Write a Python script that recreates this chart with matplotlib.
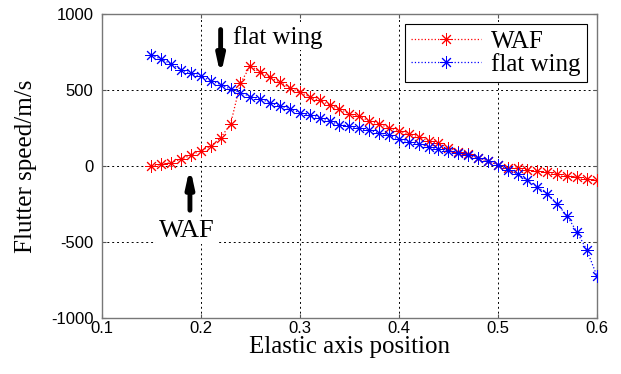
import matplotlib
matplotlib.use("Agg")
import matplotlib.pyplot as plt
import numpy as np

# Elastic axis positions (0.15 .. 0.60)
ea_pos = [0.15, 0.16, 0.17, 0.18, 0.19, 0.20, 0.21, 0.22, 0.23, 0.24,
          0.25, 0.26, 0.27, 0.28, 0.29, 0.30, 0.31, 0.32, 0.33, 0.34,
          0.35, 0.36, 0.37, 0.38, 0.39, 0.40, 0.41, 0.42, 0.43, 0.44,
          0.45, 0.46, 0.47, 0.48, 0.49, 0.50, 0.51, 0.52, 0.53, 0.54,
          0.55, 0.56, 0.57, 0.58, 0.59, 0.60]

# Flutter speed, WAF
waf_speed = [-4, 11, 22, 44, 70, 100, 130, 185, 274, 543,
             658, 615, 582, 550, 513, 485, 454, 430, 402, 376,
             341, 326, 295, 274, 252, 230, 209, 191, 165, 148,
             120, 93, 78, 52, 30, 7, -15, -15, -26, -37,
             -43, -54, -65, -74, -87, -96]

# Flutter speed, flat wing
flat_speed = [730, 702, 670, 632, 608, 589, 561, 535, 504, 482,
              456, 441, 415, 393, 376, 350, 332, 315, 293, 272,
              261, 246, 234, 217, 202, 174, 158, 143, 126, 109,
              98, 87, 72, 50, 35, 7, -26, -54, -96, -139,
              -183, -250, -330, -435, -554, -722]

x_ticks = [0.1, 0.2, 0.3, 0.4, 0.5, 0.6]
y_ticks = [-1000, -500, 0, 500, 1000]

serif = ["Liberation Serif", "DejaVu Serif"]
sans = ["Liberation Sans", "DejaVu Sans"]

fig = plt.figure(figsize=(6.21, 3.74), dpi=100)
ax = fig.add_axes([0.164, 0.150, 0.797, 0.813])

asterisk = (8, 2, 0)
ax.plot(ea_pos, waf_speed, color="red", linestyle=":", linewidth=0.9,
        marker=asterisk, markersize=9, markeredgewidth=0.7, label="WAF", zorder=3)
ax.plot(ea_pos, flat_speed, color="blue", linestyle=":", linewidth=0.9,
        marker=asterisk, markersize=9, markeredgewidth=0.7, label="flat wing", zorder=3)

ax.set_xlim(0.1, 0.6)
ax.set_ylim(-1000, 1000)
ax.set_xticks(x_ticks)
ax.set_yticks(y_ticks)
ax.set_xticklabels([f"{v:g}" for v in x_ticks], family=sans, fontsize=12)
ax.set_yticklabels([f"{v:d}" for v in y_ticks], family=sans, fontsize=12)
ax.tick_params(axis="y", pad=6)
ax.tick_params(axis="x", pad=2)
ax.tick_params(direction="in", length=3, top=True, right=True, color="#555555")
ax.grid(True, color="black", linestyle=(0, (2, 3)), linewidth=0.7)
for s in ax.spines.values():
    s.set_color("#777777")
    s.set_linewidth(1.0)

ax.set_xlabel("Elastic axis position", family=serif, fontsize=18, labelpad=0)
ax.set_ylabel("Flutter speed/m/s", family=serif, fontsize=18, labelpad=10)

# Annotations with arrows
ax.annotate("", xy=(0.22, 575), xytext=(0.22, 915),
            arrowprops=dict(arrowstyle="-|>,head_length=1.0,head_width=0.22",
                            color="black", lw=3.5), zorder=4)
ax.text(0.232, 802, "flat wing", family=serif, fontsize=18, ha="left", va="baseline",
        bbox=dict(facecolor="white", edgecolor="none", pad=1), zorder=4)

ax.annotate("", xy=(0.189, 10), xytext=(0.189, -310),
            arrowprops=dict(arrowstyle="-|>,head_length=1.0,head_width=0.22",
                            color="black", lw=3.5), zorder=4)
ax.text(0.186, -465, "WAF", family=serif, fontsize=19, ha="center", va="baseline",
        bbox=dict(facecolor="white", edgecolor="none", pad=2), zorder=4)

leg = ax.legend(loc="upper right", prop={"family": serif, "size": 18},
                frameon=True, fancybox=False, edgecolor="black", framealpha=1,
                borderpad=0.25, labelspacing=0.0, handlelength=2.8,
                handletextpad=0.4, borderaxespad=0.4)
leg.get_frame().set_linewidth(0.8)

fig.savefig("out.png", dpi=100)
